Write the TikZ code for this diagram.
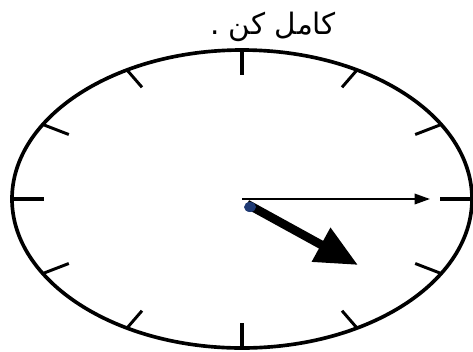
\documentclass[tikz,border=0pt]{standalone}
\usepackage{fontspec}
\newfontfamily\arabicfont[Script=Arabic]{DejaVu Sans}
\TeXXeTstate=1
\usetikzlibrary{arrows.meta}
\definecolor{cdot}{HTML}{1F3A73}
\tikzset{
  rim/.style={line width=2.6pt},
  major/.style={line width=3.4pt},
  minor/.style={line width=2.1pt},
  minute/.style={-{Triangle[length=11pt, width=7.5pt]}, line width=1.4pt},
  hour/.style={-{Triangle[length=30pt, width=26pt]}, line width=6.2pt},
  caption/.style={font=\arabicfont\fontsize{21}{24}\selectfont},
}

\begin{document}
\begin{tikzpicture}[x=0.025cm, y=-0.025cm]
  \useasboundingbox (0,0) rectangle (473,351);
  \coordinate (mid) at (242,199);
  % dial
  \draw[rim] (mid) ellipse [x radius=230, y radius=149];
  \begin{scope}[shift={(mid)}]
    \foreach \a in {0,90,180,270}
      \draw[major] (\a:230 and 149) -- (\a:198 and 124);
    \foreach \a in {30,60,120,150,210,240,300,330}
      \draw[minor] (\a:230 and 149) -- (\a:200 and 129);
  \end{scope}
  % hands
  \coordinate (hstart) at (247,204);
  \coordinate (mtip) at (430,199);
  \coordinate (htip) at (358,265);
  \draw[minute] (mid) -- (mtip);
  \draw[hour] (hstart) -- (htip);
  \fill[cdot] (250,207) ellipse [x radius=6, y radius=5];
  \node[caption] (task) at (273,27) {\beginR کامل کن .\endR};
\end{tikzpicture}
\end{document}
